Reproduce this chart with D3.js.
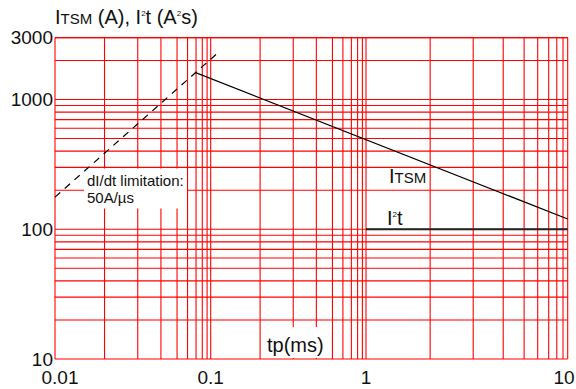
<!DOCTYPE html>
<html>
<head>
<meta charset="utf-8">
<script src="https://cdn.jsdelivr.net/npm/d3@7"></script>
<style>
  body { margin: 0; background: #fff; }
  svg { display: block; font-family: "Liberation Sans", Arial, sans-serif; }
</style>
</head>
<body>
<div class="chart"></div>
<script>
// decades on each axis
var xDecades = [0.01, 0.1, 1, 10];
var yDecades = [10, 100, 1000];
// grid steps inside one x decade, as drawn in the reference (not evenly logarithmic)
var xGridSteps = [1, 2.08, 3.40, 4.79, 6.08, 7.10, 8.05, 8.83, 9.48];
var yGridSteps = [1, 2, 3, 4, 5, 6, 7, 8, 9];
var yTop = 3000;

var xTickLabels = ["0.01", "0.1", "1", "10"];
var yTickValues = [10, 100, 1000, 3000];

// curves
var itsmT = [0.0793, 10];
var itsmV = [1620, 120];
var i2tT = [1, 10];
var i2tV = [100, 100];
var dildtT = [0.01, 0.1136];
var dildtV = [177, 2340];

function init() {
  var w = 576;
  var h = 389;

  var svg = d3.select(".chart")
    .append("svg")
    .attr("width", w)
    .attr("height", h);

  var xScale = d3.scaleLog()
    .domain(xDecades)
    .range([55, 210.7, 366, 567.7]);

  var yScale = d3.scaleLog()
    .domain([10, yTop])
    .range([359, 37.6]);

  // grid values
  var xGrid = [];
  xDecades.slice(0, 3).forEach(function(d) {
    xGridSteps.forEach(function(s) { xGrid.push(d * s); });
  });
  xGrid.push(10);

  var yGrid = [];
  yDecades.forEach(function(d) {
    yGridSteps.forEach(function(s) {
      if (d * s <= yTop) yGrid.push(d * s);
    });
  });
  yGrid.push(yTop);

  var grid = svg.append("g")
    .attr("stroke", "#ff0000")
    .attr("stroke-width", 1.1);

  grid.selectAll(".hline")
    .data(yGrid)
    .enter()
    .append("line")
    .attr("x1", xScale(0.01))
    .attr("x2", xScale(10))
    .attr("y1", function(d) { return yScale(d); })
    .attr("y2", function(d) { return yScale(d); });

  grid.selectAll(".vline")
    .data(xGrid)
    .enter()
    .append("line")
    .attr("x1", function(d) { return xScale(d); })
    .attr("x2", function(d) { return xScale(d); })
    .attr("y1", yScale(10))
    .attr("y2", yScale(yTop));

  // white boxes behind the annotations
  svg.append("rect")
    .attr("x", 84).attr("y", 168.5)
    .attr("width", 103).attr("height", 40)
    .attr("fill", "#fff");
  svg.append("rect")
    .attr("x", 262).attr("y", 327)
    .attr("width", 69).attr("height", 31)
    .attr("fill", "#fff");

  var line = d3.line()
    .x(function(d) { return xScale(d[0]); })
    .y(function(d) { return yScale(d[1]); });

  svg.append("path")
    .datum(d3.zip(dildtT, dildtV))
    .attr("fill", "none")
    .attr("stroke", "#000")
    .attr("stroke-width", 1.2)
    .attr("stroke-dasharray", "7,6")
    .attr("d", line);

  svg.append("path")
    .datum(d3.zip(itsmT, itsmV))
    .attr("fill", "none")
    .attr("stroke", "#000")
    .attr("stroke-width", 1.2)
    .attr("d", line);

  svg.append("path")
    .datum(d3.zip(i2tT, i2tV))
    .attr("fill", "none")
    .attr("stroke", "#222")
    .attr("stroke-width", 2)
    .attr("d", line);

  // y tick labels
  svg.selectAll(".ylab")
    .data(yTickValues)
    .enter()
    .append("text")
    .attr("x", 53)
    .attr("y", function(d) { return yScale(d); })
    .attr("dy", "0.36em")
    .attr("text-anchor", "end")
    .style("font-size", "19px")
    .attr("fill", "#111")
    .text(function(d) { return d; });

  // x tick labels, kept inside the picture
  svg.selectAll(".xlab")
    .data(xDecades)
    .enter()
    .append("text")
    .attr("x", function(d) { return Math.min(Math.max(xScale(d), 60), 564); })
    .attr("y", yScale(10) + 24.5)
    .attr("text-anchor", "middle")
    .style("font-size", "19px")
    .attr("fill", "#111")
    .text(function(d, i) { return xTickLabels[i]; });

  // title
  var title = svg.append("text")
    .attr("x", 55)
    .attr("y", 24)
    .style("font-size", "20px")
    .attr("fill", "#111");
  title.append("tspan").text("I");
  title.append("tspan").style("font-size", "15px").text("TSM");
  title.append("tspan").text(" (A), I");
  title.append("tspan").style("font-size", "8px").attr("dy", -8).text("2");
  title.append("tspan").attr("dy", 8).text("t (A");
  title.append("tspan").style("font-size", "8px").attr("dy", -8).text("2");
  title.append("tspan").attr("dy", 8).text("s)");

  // curve labels
  var itsmLab = svg.append("text")
    .attr("x", 389)
    .attr("y", 183.3)
    .style("font-size", "20px")
    .attr("fill", "#111");
  itsmLab.append("tspan").text("I");
  itsmLab.append("tspan").style("font-size", "15px").text("TSM");

  var i2tLab = svg.append("text")
    .attr("x", 387)
    .attr("y", 225)
    .style("font-size", "20px")
    .attr("fill", "#111");
  i2tLab.append("tspan").text("I");
  i2tLab.append("tspan").style("font-size", "8px").attr("dy", -8).text("2");
  i2tLab.append("tspan").attr("dy", 8).text("t");

  svg.append("text")
    .attr("x", 267)
    .attr("y", 352)
    .style("font-size", "20px")
    .attr("fill", "#111")
    .text("tp(ms)");

  svg.append("text")
    .attr("x", 87)
    .attr("y", 185.7)
    .style("font-size", "15px")
    .attr("fill", "#111")
    .text("dI/dt limitation:");
  svg.append("text")
    .attr("x", 87)
    .attr("y", 203.3)
    .style("font-size", "15px")
    .attr("fill", "#111")
    .text("50A/\u00b5s");
}
window.onload = init;
</script>
</body>
</html>
